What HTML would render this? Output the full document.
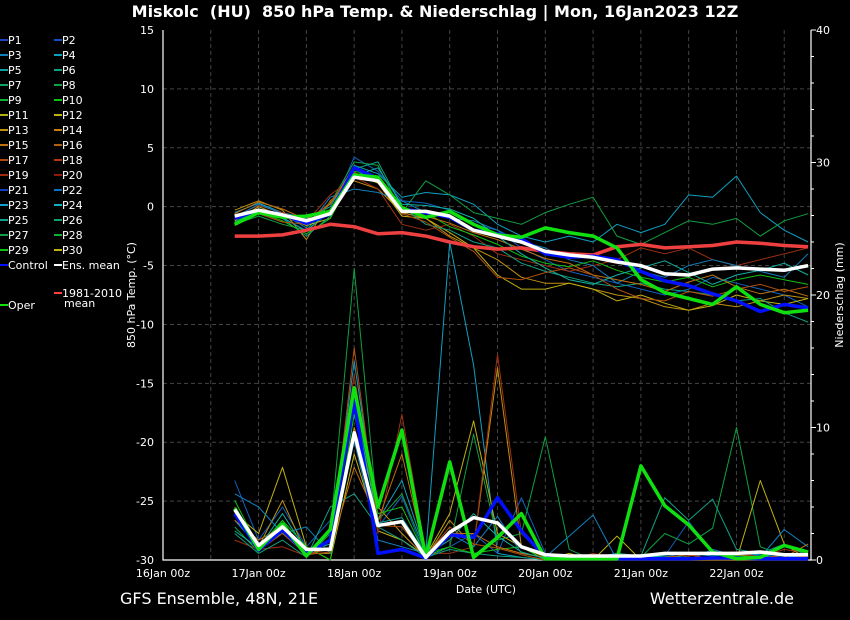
<!DOCTYPE html>
<html><head><meta charset="utf-8"><style>
body{margin:0;background:#000;width:850px;height:620px;overflow:hidden}
svg{display:block;font-family:"DejaVu Sans","Liberation Sans",sans-serif}
</style></head><body>
<svg id="c" width="850" height="620"></svg>
<script>
const times=[0.75,1,1.25,1.5,1.75,2,2.25,2.5,2.75,3,3.25,3.5,3.75,4,4.25,4.5,4.75,5,5.25,5.5,5.75,6,6.25,6.5,6.75];
const dayLabels=["16Jan 00z","17Jan 00z","18Jan 00z","19Jan 00z","20Jan 00z","21Jan 00z","22Jan 00z"];
const tempTicks=[15,10,5,0,-5,-10,-15,-20,-25,-30];
const precTicks=[0,10,20,30,40];
const memberTemp=[
[-0.5,0.3,-0.5,-1,0,3.5,2.8,0.8,1.2,1.0,0.2,-1.5,-2.5,-3,-2.5,-3,-1.5,-2.2,-1.5,1.0,0.8,2.6,-0.5,-2,-3],
[-1,-0.2,-1,-2,-0.5,4.2,3,0.5,0.3,-0.3,-1.5,-2,-3.5,-4.5,-5.5,-6,-6.5,-7,-7.5,-7,-6,-6.5,-7,-7.5,-8.5],
[-0.3,0.5,-0.3,-2.8,0.5,2.2,1.5,-0.5,-1,-2.5,-3.5,-4.5,-6,-6.5,-6.5,-7,-7.5,-7.8,-8.5,-8.8,-8.2,-8.5,-8,-7.5,-7.8],
[-1.5,-0.8,-1.5,-2,0.3,3.8,3.5,-0.5,2.2,1,-0.5,-1,-1.5,-0.5,0.2,0.8,-2.5,-3.2,-2.2,-1.2,-1.5,-1,-2.5,-1.2,-0.6],
[-1.2,0,-0.8,-1.6,-1,2.8,2,-0.8,-1,-2.2,-3.5,-5.8,-7,-7,-6.5,-7,-8,-7.5,-8.2,-8.8,-8.4,-7.5,-8,-8.3,-7.8],
[-0.8,0.1,-0.5,-1.3,1,2.5,1.5,-1.5,-2,-1.5,-2.5,-4,-4.5,-5,-5.5,-5,-4.5,-3.5,-4,-3.5,-4.5,-5,-4.5,-4,-3.5],
[-1.3,-0.3,-1,-2.5,-0.8,3.2,3.8,0,-1.5,-2,-3,-3.5,-4.8,-5.5,-6,-6.5,-6.8,-6.5,-7,-7.2,-7.5,-8,-7.8,-9,-9.8],
[-0.9,0.2,-0.6,-1.8,0.8,1.5,1.2,0.5,-0.5,-1,-1.2,-2,-3,-3.5,-4.5,-5,-6.5,-5.5,-6,-5,-4.5,-5,-5.5,-6,-4],
[-1.4,-0.5,-1.2,-2.3,-1,3,2.6,-0.3,-0.5,-1.7,-2.4,-3.2,-4.2,-4.8,-5.1,-4.6,-5.4,-6,-6.4,-6,-6.8,-6.2,-5.8,-6.2,-6.6],
[-0.6,0.4,-0.2,-1.1,0.2,3.4,2.4,-0.2,-0.8,-1.4,-2.2,-2.8,-3.6,-4.4,-4.8,-5.8,-6.2,-6.6,-7.2,-6.4,-5.8,-6.8,-7.4,-7,-7.6],
[-1.1,-0.4,-0.9,-2.1,-0.2,2.6,3.3,0.2,0.1,-0.2,-1,-2.5,-4,-5.2,-6.2,-6.6,-5.8,-5.2,-4.6,-5.6,-6.6,-5.8,-5.4,-4.8,-5.8],
[-1.6,-0.6,-1.3,-1.5,0.4,2.9,2.1,-0.6,-1.3,-2.6,-3.8,-6,-6.2,-5.6,-5.2,-5.8,-7,-7.8,-8,-7.2,-7.6,-7,-6.6,-7.2,-6.8]];
const memberPrec=[
[3,1,2,0.5,1,15,3,6,0.5,24,14.7,0.5,0.2,0,0,0.2,0.5,0.3,0.5,0.5,0.3,0.5,0.4,0.2,0.3],
[6,1.5,4,1,3,13,2.5,4.8,0.2,1,2,0.5,4.7,0.5,0.3,0.2,0.2,0.2,0.3,2.9,0.5,0.5,0.3,0.2,0.2],
[4,1,4.5,0.5,0.5,10,4,2,0.2,3,1,14.5,1,0.2,0,0,0,0,0,0,0,0.4,0.2,0,0],
[2.5,0.6,3,0.2,2,22,3,5,0.5,1,9.5,1.5,2,9.3,0.8,0,0,0.2,2,1.2,2.4,10,1,0.3,0.5],
[3.5,2,7,1,0,8,2.2,1.5,0.3,3.5,10.5,2,1,0,0.5,0,1.8,0,0,0,0,0,6,1.2,0],
[1.5,0.8,1,0.3,1,14,2,11,0.5,0.5,1,15.5,2,0.2,0,0.5,0,0,0,0.3,0.5,0.6,0.2,0.8,0.5],
[2,0.5,1.5,0.2,4,5,2.5,1.5,0.2,0.8,0.5,0.3,0.2,0,0,0,0.5,0.3,4.7,3,4.6,0.8,0.5,1.2,0.3],
[5,4,2,2.5,0.5,9,1.5,1,0.5,2,1,3.3,0.5,0.2,1.8,3.4,0,0.3,0.5,0,0.8,0.3,0.2,2.3,1],
[4.5,1,3,1,0,11,3.5,4,0.3,1,0.5,0.8,1,0,0,0,0,0.3,0,0.5,0.5,0.3,0.2,0,0],
[3,1.5,2.5,0.5,0.8,7,3,8,0.2,2,2,1,0.5,0.2,0,0.2,0.2,0,0,0,0,0,0,0.2,1.2],
[2.2,0.9,3.5,0.7,1.2,12,2.8,3.2,0.4,1.5,3.5,1.8,0.6,0.1,0.3,0.1,0,0.2,0.3,0.2,0.2,0.1,0.3,0.1,0.2],
[3.8,0.7,2,0.4,0.6,16,2.6,2.5,0.3,2.5,1.2,0.9,0.4,0,0.1,0.2,0.1,0.1,0.2,0.4,0.1,0.2,0.1,0.4,0.2]];
const memberColors=["#10a0c0","#1060c0","#c09010","#10a040","#c0b010","#a03010","#10a080","#1080c0","#10c010","#c07010","#10b0a0","#b05010"];
const meanTemp=[-0.8,-0.3,-0.7,-1.2,-0.6,2.5,2.2,-0.4,-0.4,-0.8,-2,-2.5,-3,-3.8,-4.1,-4.3,-4.7,-5.0,-5.7,-5.8,-5.3,-5.2,-5.3,-5.4,-5.0];
const climTemp=[-2.5,-2.5,-2.4,-2,-1.5,-1.7,-2.3,-2.2,-2.5,-3,-3.4,-3.6,-3.5,-3.8,-4.0,-4.1,-3.4,-3.2,-3.5,-3.4,-3.3,-3.0,-3.1,-3.3,-3.4];
const operTemp=[-1.5,-0.5,-0.9,-0.8,-0.4,2.7,2.5,-0.1,-0.9,-0.4,-1.5,-2.4,-2.6,-1.8,-2.2,-2.5,-3.5,-6.2,-7.3,-7.8,-8.3,-6.8,-8.3,-9.0,-8.8];
const ctrlTemp=[-1,-0.3,-0.7,-1.4,-0.6,3.3,2.4,-0.2,-0.5,-0.9,-2,-2.3,-2.7,-4,-4.3,-4.2,-4.5,-5.5,-6.3,-6.7,-7.4,-8.0,-8.9,-8.3,-8.6];
const meanPrec=[3.8,1.1,2.5,0.8,0.8,9.6,2.6,2.9,0.2,2.1,3.2,2.8,1.0,0.4,0.3,0.3,0.3,0.3,0.5,0.5,0.5,0.5,0.6,0.4,0.4];
const operPrec=[3.9,0.8,2.7,0.3,2.3,13,4,9.8,0.2,7.4,0.2,1.7,3.5,0.1,0.1,0.1,0.1,7.1,4.1,2.65,0.6,0.1,0.2,1.1,0.6];
const ctrlPrec=[3.5,0.75,2.3,0.45,1.5,12,0.5,0.8,0.15,1.9,1.7,4.7,2.2,0.2,0.1,0.1,0.1,0.1,0.1,0.1,0.15,0.15,0.1,0.1,0.1];
const legendNames=[];for(let i=1;i<=30;i++)legendNames.push("P"+i);
const legendColors=["#2040c0","#1050c0","#1080c0","#10a0c0","#10a0a0","#10a080","#10a060","#10a040","#10b030","#10c010","#b0b010","#c0b010","#c09010","#c08010","#c07010","#b06010","#b04a10","#b03a10","#a02a10","#901a10","#1040c0","#1070c0","#10a0d0","#10b0c0","#10a090","#10a070","#10a040","#10b030","#10c010","#c0b010"];

const L=163,R=811,T=30,B=560;
const X=d=>L+d*(R-L)/6.78;
const YT=t=>B-(t+30)*(B-T)/45;
const YP=p=>B-p*(B-T)/40;
const svg=document.getElementById('c');
const NS="http://www.w3.org/2000/svg";
function mk(tag,attrs,parent){const e=document.createElementNS(NS,tag);for(const k in attrs)e.setAttribute(k,attrs[k]);(parent||svg).appendChild(e);return e;}
function txt(s,x,y,o){const e=mk('text',Object.assign({x:x,y:y,fill:'#fff','font-size':11},o||{}));e.textContent=s;return e;}

let t=txt("Miskolc  (HU)  850 hPa Temp. & Niederschlag | Mon, 16Jan2023 12Z",435,17,{'font-size':16,'font-weight':'bold','text-anchor':'middle',style:'white-space:pre'});



for(let h=0;h<=13;h++){const x=X(h*0.5);if(x>L&&x<R){let g=mk('line',{x1:x,x2:x,y1:T,y2:B,stroke:'#444','stroke-dasharray':'4,3','stroke-width':1});

}}
tempTicks.forEach(v=>{const y=YT(v);if(y>T&&y<B){let g=mk('line',{x1:L,x2:R,y1:y,y2:y,stroke:'#444','stroke-dasharray':'4,3'});

}
let l=txt(String(v),154,y+4,{'text-anchor':'end'});

});
for(let p=0;p<=40;p+=2){let tk=mk('line',{x1:R,x2:R+(p%10?3:5),y1:YP(p),y2:YP(p),stroke:'#fff'});

}
precTicks.forEach(p=>{let l=txt(String(p),816,YP(p)+4);

});
dayLabels.forEach((s,i)=>{let l=txt(s,X(i),577,{'text-anchor':'middle'});

});
let ax=mk('path',{d:`M${L},${T}V${B}H${R}V${T}`,stroke:'#fff',fill:'none','stroke-width':1.2});


let xl=txt("Date (UTC)",486,593,{'text-anchor':'middle'});


let yl=txt("850 hPa Temp. (°C)",0,0,{'text-anchor':'middle',transform:'translate(135,295) rotate(-90)'});


let yr=txt("Niederschlag (mm)",0,0,{'text-anchor':'middle',transform:'translate(843,295) rotate(-90)'});



function line(vals,yf,color,w,name){const d=vals.map((v,i)=>(i?'L':'M')+X(times[i]).toFixed(1)+','+yf(v).toFixed(1)).join('');
const p=mk('path',{d:d,stroke:color,'stroke-width':w,fill:'none','stroke-linejoin':'round'});

return p;}
memberPrec.forEach((m,i)=>line(m,YP,memberColors[i],1,'member-precip-line'));
memberTemp.forEach((m,i)=>line(m,YT,memberColors[i],1,'member-temp-line'));
line(climTemp,YT,'#ee4040',3.5,'climate-mean-line');
line(ctrlPrec,YP,'#0010ff',3.5,'control-precip-line');
line(ctrlTemp,YT,'#0010ff',3.5,'control-temp-line');
line(operPrec,YP,'#10e010',3.5,'oper-precip-line');
line(operTemp,YT,'#10e010',3.5,'oper-temp-line');
line(meanPrec,YP,'#ffffff',3.5,'ens-mean-precip-line');
line(meanTemp,YT,'#ffffff',3.5,'ens-mean-temp-line');

legendNames.forEach((n,i)=>{const col=i%2,row=Math.floor(i/2);const x=col?54:0,y=40+row*15;
const g=mk('g',{});


mk('line',{x1:x,x2:x+8,y1:y,y2:y,stroke:legendColors[i],'stroke-width':2},g);
const e=mk('text',{x:x+8,y:y+4,fill:'#fff','font-size':11},g);e.textContent=n;});
function leg(x,y,c,s,s2){const g=mk('g',{});


mk('line',{x1:x,x2:x+8,y1:y,y2:y,stroke:c,'stroke-width':2},g);
const e=mk('text',{x:x+8,y:y+4,fill:'#fff','font-size':11},g);e.textContent=s;
if(s2){const e2=mk('text',{x:x+10,y:y+14,fill:'#fff','font-size':11},g);e2.textContent=s2;}}
leg(0,265,'#0010ff','Control');leg(54,265,'#ffffff','Ens. mean');
leg(54,293,'#ff4040','1981-2010','mean');leg(0,305,'#10e010','Oper');

let f1=txt("GFS Ensemble, 48N, 21E",120,604,{'font-size':16});


let f2=txt("Wetterzentrale.de",794,604,{'font-size':16,'text-anchor':'end'});


</script>
</body></html>
